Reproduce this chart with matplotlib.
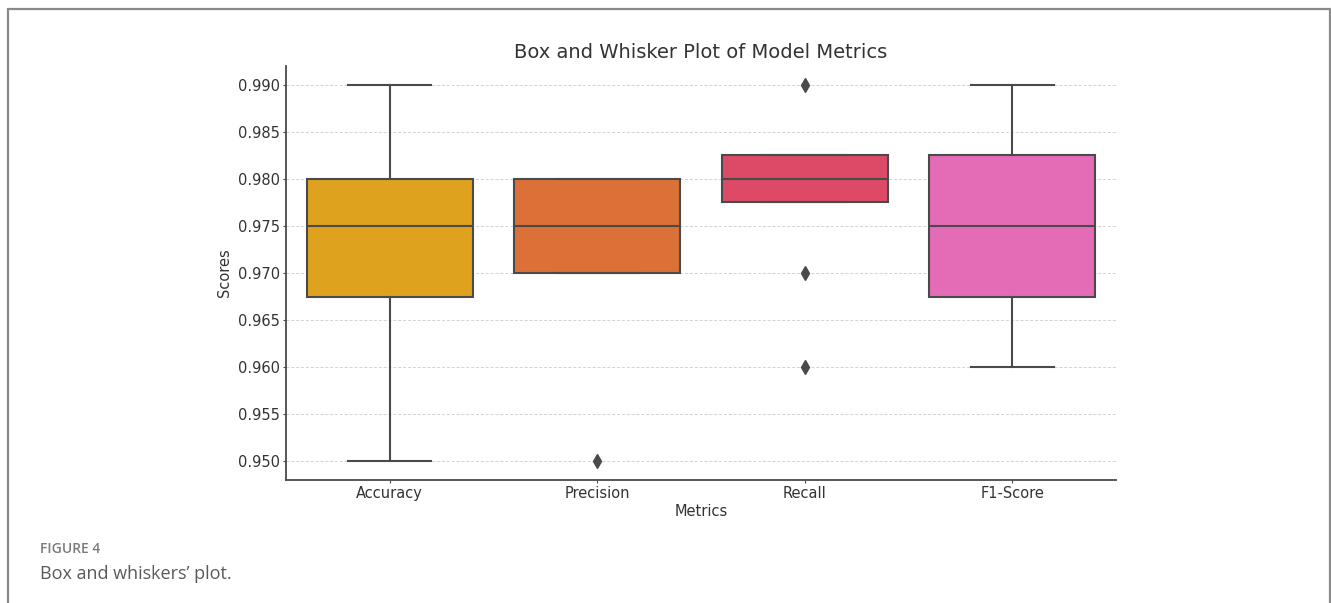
import matplotlib
matplotlib.use("Agg")
import matplotlib.pyplot as plt
from matplotlib.patches import Rectangle

plt.rcParams["font.family"] = ["DejaVu Sans"]

# Summary statistics for each metric (across models)
metrics = ["Accuracy", "Precision", "Recall", "F1-Score"]
q1 = [0.9675, 0.970, 0.9775, 0.9675]
medians = [0.975, 0.975, 0.980, 0.975]
q3 = [0.980, 0.980, 0.9825, 0.9825]
whisker_low = [0.950, 0.970, 0.9775, 0.960]
whisker_high = [0.990, 0.980, 0.9825, 0.990]
outliers = [[], [0.950], [0.990, 0.970, 0.960], []]

colors = ["#DFA21F", "#DB7137", "#DC4A67", "#E46CB7"]
line_color = "#4a4a4a"
text_color = "#333333"

stats = []
for i, name in enumerate(metrics):
    stats.append({
        "label": name,
        "q1": q1[i],
        "med": medians[i],
        "q3": q3[i],
        "whislo": whisker_low[i],
        "whishi": whisker_high[i],
        "fliers": outliers[i],
    })

fig = plt.figure(figsize=(13.31, 6.03), dpi=100)

# outer frame around the figure panel
fig.patches.append(Rectangle((8 / 1331, -0.05), 1322 / 1331, 0.05 + 594 / 603,
                             transform=fig.transFigure, fill=False,
                             edgecolor="#8a8a8a", linewidth=1.6))

ax = fig.add_axes([286 / 1331, 123 / 603, 830 / 1331, 414 / 603])

bp = ax.bxp(stats, positions=range(len(metrics)), widths=0.8,
            patch_artist=True, manage_ticks=True,
            boxprops=dict(edgecolor=line_color, linewidth=1.5),
            medianprops=dict(color=line_color, linewidth=1.5),
            whiskerprops=dict(color=line_color, linewidth=1.5),
            capprops=dict(color=line_color, linewidth=1.5),
            flierprops=dict(marker="d", markerfacecolor=line_color,
                            markeredgecolor=line_color, markersize=7))
for patch, c in zip(bp["boxes"], colors):
    patch.set_facecolor(c)
for cap in bp["caps"]:
    x0, x1 = cap.get_xdata()
    mid = (x0 + x1) / 2
    cap.set_xdata([mid - 0.2, mid + 0.2])

ax.set_xlim(-0.5, 3.5)
ax.set_ylim(0.948, 0.992)
ax.set_yticks([0.950, 0.955, 0.960, 0.965, 0.970, 0.975, 0.980, 0.985, 0.990])
ax.set_yticklabels([f"{v:.3f}" for v in ax.get_yticks()])
ax.yaxis.grid(True, linestyle=(0, (3, 2)), color="#d2d2d2", linewidth=0.7)
ax.set_axisbelow(True)

for side in ["top", "right"]:
    ax.spines[side].set_visible(False)
for side in ["left", "bottom"]:
    ax.spines[side].set_color(line_color)
    ax.spines[side].set_linewidth(1.3)
ax.tick_params(colors=line_color, labelcolor=text_color, labelsize=10.5,
               length=2.5, pad=2)

ax.set_title("Box and Whisker Plot of Model Metrics", fontsize=14, color=text_color, pad=6)
ax.set_xlabel("Metrics", fontsize=10.5, color=text_color, labelpad=2)
ax.set_ylabel("Scores", fontsize=10.5, color=text_color, labelpad=4)

fig.text(40 / 1331, (603 - 549) / 603, "FIGURE 4", fontsize=10, fontweight="semibold",
         color="#7a7a7a", family="Open Sans", va="center")
fig.text(40 / 1331, (603 - 574) / 603, "Box and whiskers\u2019 plot.", fontsize=13,
         color="#5a5a5a", family="Open Sans", va="center")

fig.savefig("out.png", dpi=100)
